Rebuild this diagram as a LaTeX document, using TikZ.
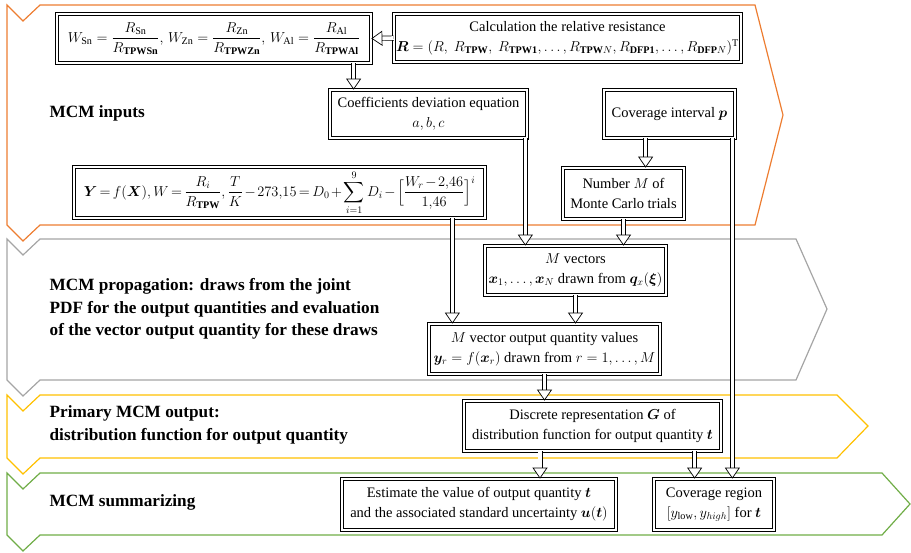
\documentclass[tikz,border=0pt]{standalone}
\usepackage{amsmath}
\usepackage{amssymb}
\usepackage{bm}
\usepackage{fontspec}
\setmainfont{Liberation Serif}
\usepackage{tikz}
\usetikzlibrary{arrows.meta}

\definecolor{mcmorange}{RGB}{237,125,49}
\definecolor{mcmgray}{RGB}{165,165,165}
\definecolor{mcmyellow}{RGB}{255,192,0}
\definecolor{mcmgreen}{RGB}{112,173,71}

\begin{document}
\begin{tikzpicture}[x = 1pt, y = -1pt, line width = 0.7pt,
                    box/.style = {draw, double, double distance = 2.6pt, fill = white, align = center,
                                  inner sep = 2pt, font = \fontsize{14.5}{20}\selectfont},
                    band/.style = {line width = 1.2pt, line join = miter},
                    stage/.style = {anchor = west, align = left, font = \fontsize{17.2}{22.5}\selectfont\bfseries},
                    flow/.style = {double, double distance = 3.6pt,
                                   -{Triangle[length = 11pt, width = 15pt, fill = white]}}]
      \useasboundingbox (0,0) rectangle (911,552);

      % stages
      \draw [band, mcmorange] (40,5) -- (755,5) -- (783,115) -- (755,225) -- (40,225) -- (23,241)
            -- (7,225) -- (7,5) -- (23,21) -- cycle;
      \draw [band, mcmgray] (40,239) -- (796,239) -- (827,309) -- (796,380) -- (40,380) -- (23,396)
            -- (7,380) -- (7,239) -- (23,255) -- cycle;
      \draw [band, mcmyellow] (40,395) -- (837,395) -- (868,426) -- (837,458) -- (40,458) -- (23,474)
            -- (7,458) -- (7,395) -- (23,411) -- cycle;
      \draw [band, mcmgreen] (40,473) -- (882,473) -- (910,504) -- (882,535) -- (40,535) -- (23,551)
            -- (7,535) -- (7,473) -- (23,489) -- cycle;

      \node [stage] (lin) at (46,113) {MCM inputs};
      \node [stage] (lprop) at (46,309) {MCM propagation: draws from the joint\\
            PDF for the output quantities and evaluation\\of the vector output quantity for these draws};
      \node [stage] (lprim) at (46,425) {Primary MCM output:\\distribution function for output quantity};
      \node [stage] (lsum) at (46,502) {MCM summarizing};

      % boxes
      \node [box, minimum width = 314, minimum height = 49] (wbox) at (214,38.5)
            {$\displaystyle W_{\mathrm{Sn}} = \frac{R_{\mathrm{Sn}}}{R_{\mathbf{TPWSn}}},\,
              W_{\mathrm{Zn}} = \frac{R_{\mathrm{Zn}}}{R_{\mathbf{TPWZn}}},\,
              W_{\mathrm{Al}} = \frac{R_{\mathrm{Al}}}{R_{\mathbf{TPWAl}}}$};
      \node [box, minimum width = 335, minimum height = 48] (rbox) at (567.5,38)
            {Calculation the relative resistance\\
             $\bm{R} = (R,\ R_{\mathbf{TPW}},\ R_{\mathbf{TPW1}}, \dots, R_{\mathbf{TPW}N}, R_{\mathbf{DFP1}}, \dots, R_{\mathbf{DFP}N})^{\mathrm{T}}$};
      \node [box, minimum width = 197, minimum height = 48] (coef) at (428.5,114)
            {Coefficients deviation equation\\$a, b, c$};
      \node [box, minimum width = 131, minimum height = 48] (cov) at (669.5,114)
            {Coverage interval $\bm{p}$};
      \node [box, minimum width = 411, minimum height = 51, inner sep = 1pt] (ybox) at (279.5,192.5)
            {\thickmuskip = 3mu \medmuskip = 2mu
             $\displaystyle \bm{Y} = f(\bm{X}), W = \frac{R_i}{R_{\mathbf{TPW}}}, \frac{T}{K} - 273{,}15 =
              D_0 + \sum_{i=1}^{9} D_i - \Bigl[\frac{W_r - 2{,}46}{1{,}46}\Bigr]^i$};
      \node [box, minimum width = 121, minimum height = 51] (numm) at (623.5,193.5)
            {Number $M$ of\\Monte Carlo trials};
      \node [box, minimum width = 181, minimum height = 49] (mvec) at (575.5,270.5)
            {$M$ vectors\\$\bm{x}_1, \dots, \bm{x}_N$ drawn from $\bm{q}_x(\bm{\xi})$};
      \node [box, minimum width = 231, minimum height = 50] (mout) at (544.5,349)
            {$M$ vector output quantity values\\$\bm{y}_r = f(\bm{x}_r)$ drawn from $r = 1, \dots, M$};
      \node [box, minimum width = 257, minimum height = 50] (disc) at (592.5,426)
            {Discrete representation $\bm{G}$ of\\distribution function for output quantity $\bm{t}$};
      \node [box, minimum width = 274, minimum height = 51] (est) at (479,504.5)
            {Estimate the value of output quantity $\bm{t}$\\and the associated standard uncertainty $\bm{u}(\bm{t})$};
      \node [box, minimum width = 120, minimum height = 51] (covreg) at (714,504.5)
            {Coverage region\\$\left[y_{\mathrm{low}}, y_{high}\right]$ for $\bm{t}$};

      % arrows
      \draw [flow] (rbox.west) -- (wbox.east);
      \draw [flow] ([xshift = 24]coef.north west |- wbox.south) -- ([xshift = 24]coef.north west);
      \draw [flow] ([xshift = -2]coef.south east) -- ([xshift = -2]coef.south east |- mvec.north);
      \draw [flow] ([xshift = 42]cov.south west) -- ([xshift = 42]cov.south west |- numm.north);
      \draw [flow] ([xshift = -3]cov.south east) -- ([xshift = -3]cov.south east |- covreg.north);
      \draw [flow] (numm.south) -- (numm.south |- mvec.north);
      \draw [flow] ([xshift = -33]ybox.south east) -- ([xshift = -33]ybox.south east |- mout.north);
      \draw [flow] (mvec.south) -- (mvec.south |- mout.north);
      \draw [flow] (mout.south) -- (mout.south |- disc.north);
      \draw [flow] ([xshift = 61]est.north |- disc.south) -- ([xshift = 61]est.north);
      \draw [flow] ([xshift = 41]covreg.north west |- disc.south) -- ([xshift = 41]covreg.north west);

      \end{tikzpicture}
\end{document}
